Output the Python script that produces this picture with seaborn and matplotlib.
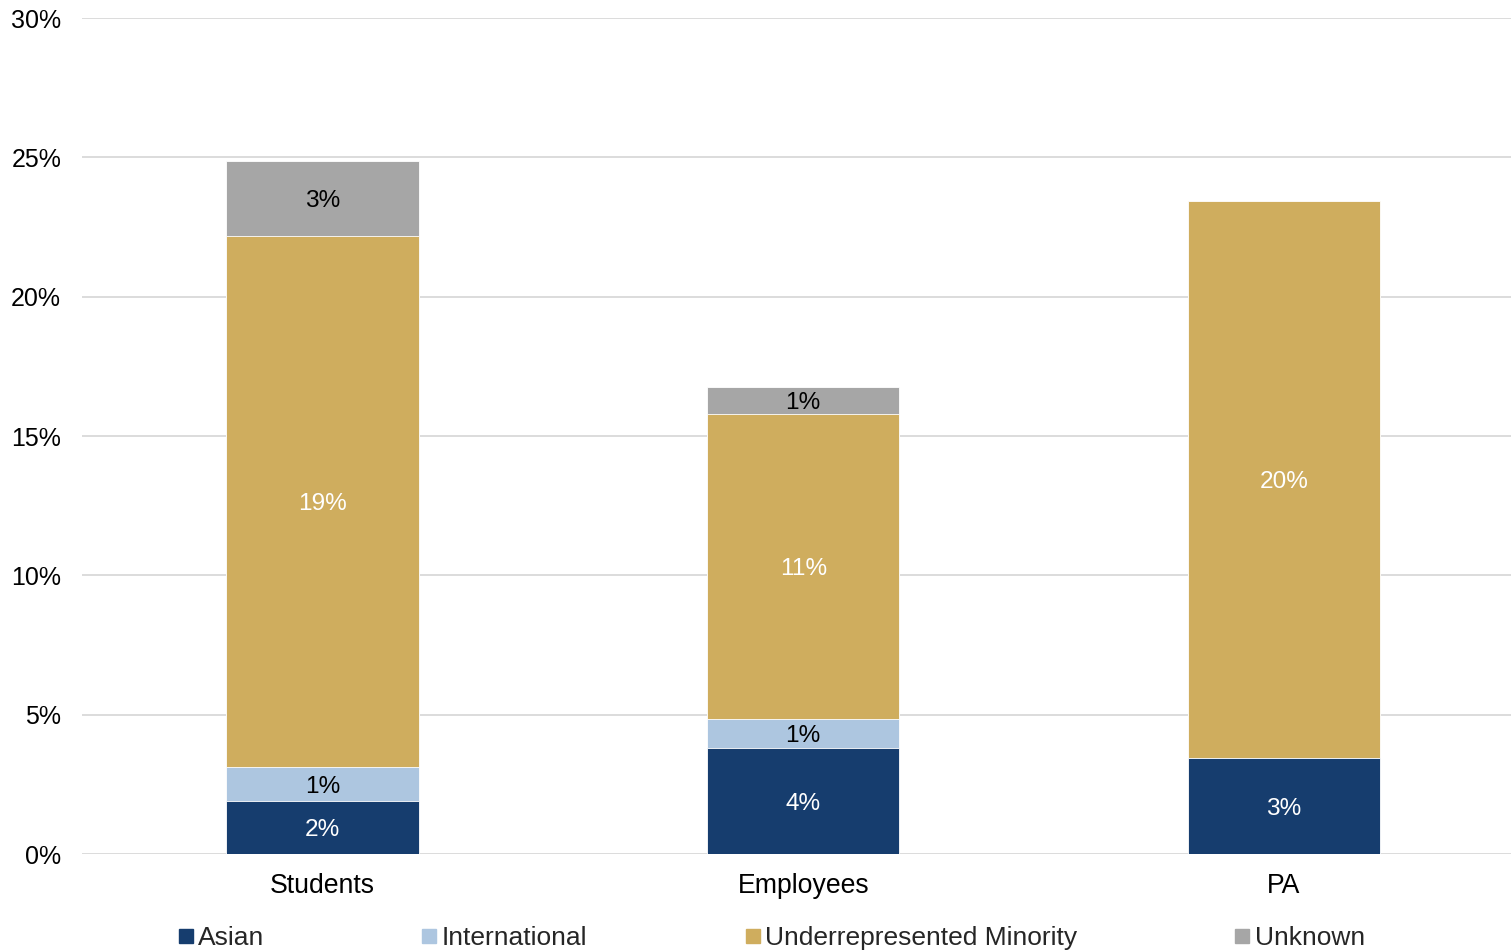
import numpy as np
import pandas as pd
import seaborn as sns
import matplotlib.pyplot as plt
from matplotlib.lines import Line2D

# values in percent
groups = ["Students", "Employees", "PA"]
series = ["Asian", "International", "Underrepresented Minority", "Unknown"]
asian = [1.90, 3.80, 3.44]
international = [1.22, 1.04, 0.0]
urm = [19.05, 10.94, 19.99]
unknown = [2.69, 0.97, 0.0]
colors = ["#163D6E", "#ADC6E0", "#CFAD5E", "#A6A6A6"]
label_colors = ["white", "black", "white", "black"]
yticks = [0, 5, 10, 15, 20, 25, 30]

sns.set_theme(style="white")
plt.rcParams["font.family"] = ["Liberation Sans", "DejaVu Sans"]

df = pd.DataFrame({"group": groups, "Asian": asian, "International": international,
                   "Underrepresented Minority": urm, "Unknown": unknown})
cum = df[series].cumsum(axis=1)

fig = plt.figure(figsize=(15.11, 9.51), dpi=100)
ax = fig.add_axes([82 / 1511, 1 - 854 / 951, 1 - 82 / 1511, (854 - 18) / 951])

# stacked bars: draw cumulative totals from the top segment down
for name, col in reversed(list(zip(series, colors))):
    sns.barplot(x=df["group"], y=cum[name], color=col, width=0.4, ax=ax,
                edgecolor="white", linewidth=0.6, saturation=1, zorder=3)

# segment labels
for i, g in enumerate(groups):
    for name, lc in zip(series, label_colors):
        v = df.loc[i, name]
        if v <= 0:
            continue
        mid = cum.loc[i, name] - v / 2
        ax.text(i, mid, f"{v:.0f}%", ha="center", va="center_baseline", color=lc,
                fontsize=17.6, zorder=4)

ax.set_xlim(-0.5, 2.472)
ax.set_ylim(0, 30)
ax.set_yticks(yticks)
ax.set_yticklabels([f"{t}%" for t in yticks])
ax.yaxis.grid(True, color="#D9D9D9", linewidth=1.3, zorder=0)
ax.set_axisbelow(True)
ax.tick_params(axis="both", length=0, colors="black")
ax.tick_params(axis="y", pad=15, labelsize=18)
ax.tick_params(axis="x", pad=14, labelsize=19.2)
ax.set_xlabel("")
ax.set_ylabel("")
sns.despine(ax=ax, left=True, bottom=True)

handles = [Line2D([], [], marker="s", linestyle="none", markersize=10.5,
                  markerfacecolor=c, markeredgecolor=c) for c in colors]
fig.legend(handles, series, loc="center", bbox_to_anchor=(0.5105, 0.0135), ncol=4,
           frameon=False, fontsize=19, handlelength=0.6, handletextpad=0.18,
           columnspacing=5.95, borderaxespad=0)

fig.savefig("out.png", dpi=100)
